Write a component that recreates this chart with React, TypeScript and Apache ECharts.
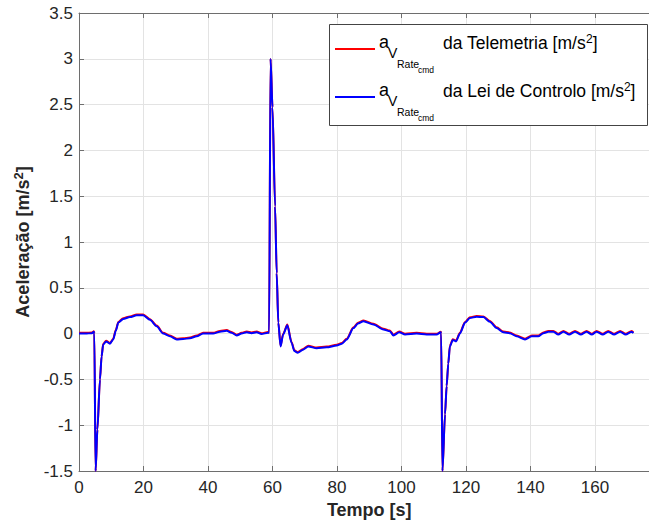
import React, { useEffect, useRef } from "react";
import * as echarts from "echarts";

// time [s]
const tempo = [
  0, 2, 4, 4.6, 4.75, 5.15, 5.7, 6.5, 7.0, 7.5, 8.4, 9.6, 10.6, 11.4, 12.2, 13.7, 15.8, 17.9, 19.9, 22,
  24.1, 26.1, 28.2, 30.3, 32.3, 34.4, 36.5, 38.5, 41.6, 43.7, 45.8, 47.3, 48.9, 50.4, 52, 53.5, 55.1, 56.6, 58.6, 58.95,
  59.4, 60.0, 60.8, 61.3, 61.8, 62.5, 63.3, 64.6, 65.9, 66.8, 67.8, 69.5, 71.1, 73.7, 76.8, 79.9, 81.5, 83, 85.1,
  86.5, 88.2, 91.3, 94.4, 96.4, 97.5, 99.3, 101.1, 104.7, 107.8, 110.9, 112.2, 112.3, 112.7, 113.5, 114, 114.5, 115, 115.9, 116.9,
  118.1, 119.7, 121.2, 123.3, 125.4, 127.4, 129.5, 131.6, 133.6, 135.7, 138.3, 140.4, 142.4, 144, 145.5, 147.1, 148.6, 150.2, 152.0, 153.8,
  155.6, 157.4, 159.0, 160.5, 162.4, 164.1, 165.9, 167.8, 169.5, 171.4, 171.9,
];

// a_V_Rate_cmd from the control law [m/s^2]
const leiControlo = [
  0, 0, 0.005, 0.02, 0.0, -1.5, -1.05, -0.5, -0.25, -0.12, -0.085, -0.11, -0.065, 0.03, 0.12, 0.16, 0.18, 0.2, 0.2, 0.15,
  0.08, 0.0, -0.03, -0.065, -0.06, -0.05, -0.03, 0.0, 0.0, 0.02, 0.03, 0.01, -0.02, 0.0, 0.015, 0.005, 0.015, -0.005, 0.01, 0.01,
  3.0, 2.47, 1.39, 0.66, 0.12, -0.14, -0.01, 0.09, -0.1, -0.19, -0.21, -0.175, -0.14, -0.16, -0.15, -0.13, -0.11, -0.065, 0.06,
  0.11, 0.135, 0.1, 0.045, 0.025, -0.02, 0.015, -0.01, 0.0, -0.01, -0.01, 0.015, 0.0, -1.5, -0.88, -0.57, -0.33, -0.14, -0.07, -0.085,
  0.0, 0.12, 0.17, 0.185, 0.18, 0.13, 0.06, 0.015, 0.005, -0.03, -0.065, -0.03, -0.03, 0.005, 0.02, 0.02, -0.01, 0.02, -0.01, 0.02,
  -0.01, 0.02, -0.01, 0.02, -0.01, 0.02, -0.01, 0.02, -0.01, 0.02, 0.005,
];

// a_V_Rate_cmd from telemetry [m/s^2]
const telemetria = [
  0.008, 0.008, 0.012, 0.025, 0.0, -1.5, -1.05, -0.5, -0.25, -0.112, -0.077, -0.102, -0.057, 0.038, 0.128, 0.168, 0.188, 0.208, 0.208, 0.158,
  0.088, 0.008, -0.022, -0.057, -0.052, -0.042, -0.022, 0.008, 0.008, 0.028, 0.038, 0.018, -0.012, 0.008, 0.023, 0.013, 0.023, 0.003, 0.018, 0.01,
  3.0, 2.47, 1.39, 0.66, 0.12, -0.132, -0.002, 0.098, -0.092, -0.182, -0.202, -0.167, -0.132, -0.152, -0.142, -0.122, -0.102, -0.057, 0.068,
  0.118, 0.143, 0.108, 0.053, 0.033, -0.012, 0.023, -0.002, 0.008, -0.002, -0.002, 0.02, 0.0, -1.5, -0.88, -0.57, -0.33, -0.132, -0.062, -0.077,
  0.008, 0.128, 0.178, 0.193, 0.188, 0.138, 0.068, 0.023, 0.013, -0.022, -0.057, -0.022, -0.022, 0.013, 0.028, 0.028, -0.002, 0.028, -0.002, 0.028,
  -0.002, 0.028, -0.002, 0.028, -0.002, 0.028, -0.002, 0.028, -0.002, 0.028, 0.013,
];

const xTicks = { min: 0, max: 180, interval: 20 };
const yTicks = { min: -1.5, max: 3.5, interval: 0.5 };

const FONT = 'Helvetica, Arial, "Liberation Sans", sans-serif';
const AX = "#262626";

export default function App() {
  const ref = useRef<HTMLDivElement>(null);
  useEffect(() => {
    if (!ref.current) return;
    const chart = echarts.init(ref.current, null, { renderer: "svg" });
    const pair = (vals: number[]) => tempo.map((t, i) => [t, vals[i]]);

    const legendRow = (y0: number, label: string, color: string) => [
      { type: "line", shape: { x1: 335, y1: y0 + 6, x2: 375, y2: y0 + 6 }, style: { stroke: color, lineWidth: 2 }, z: 101 },
      { type: "text", x: 379, y: y0 - 1, style: { text: "a", font: `18px ${FONT}`, fill: "#000", align: "left", verticalAlign: "middle" }, z: 101 },
      { type: "text", x: 388, y: y0 + 10, style: { text: "V", font: `14px ${FONT}`, fill: "#000", align: "left", verticalAlign: "middle" }, z: 101 },
      { type: "text", x: 397, y: y0 + 21, style: { text: "Rate", font: `10.5px ${FONT}`, fill: "#000", align: "left", verticalAlign: "middle" }, z: 101 },
      { type: "text", x: 418, y: y0 + 27, style: { text: "cmd", font: `8.5px ${FONT}`, fill: "#000", align: "left", verticalAlign: "middle" }, z: 101 },
      {
        type: "text", x: 443, y: y0,
        style: {
          text: `{n|${label} [m/s}{s|2}{n|]}`, align: "left", verticalAlign: "middle", fill: "#000",
          rich: {
            n: { fontSize: 17.5, fontFamily: FONT, lineHeight: 21, fill: "#000" },
            s: { fontSize: 12, fontFamily: FONT, lineHeight: 12, verticalAlign: "top", fill: "#000" },
          },
        },
        z: 101,
      },
    ];

    chart.setOption({
      animation: false,
      backgroundColor: "#fff",
      grid: { left: 79, top: 13, bottom: 56, right: 1.5, containLabel: false },
      xAxis: [
        {
          type: "value", ...xTicks, position: "bottom",
          name: "Tempo [s]", nameLocation: "middle", nameGap: 29,
          nameTextStyle: { fontFamily: FONT, fontSize: 18, fontWeight: "bold", color: AX },
          axisLine: { show: true, onZero: false, lineStyle: { color: "#6e6e6e", width: 1 } },
          axisTick: { show: true, inside: true, length: 5, lineStyle: { color: "#6e6e6e" } },
          axisLabel: { fontFamily: FONT, fontSize: 17, color: AX, margin: 8, showMaxLabel: false },
          splitLine: { show: true, lineStyle: { color: "#e3e3e3", width: 1 } },
        },
        {
          type: "value", ...xTicks, position: "top",
          axisLine: { show: true, onZero: false, lineStyle: { color: "#6e6e6e", width: 1 } },
          axisTick: { show: true, inside: true, length: 5, lineStyle: { color: "#6e6e6e" } },
          axisLabel: { show: false },
          splitLine: { show: false },
        },
      ],
      yAxis: {
        type: "value", ...yTicks,
        name: "{n|Aceleração [m/s}{s|2}{n|]}", nameLocation: "middle", nameGap: 45, nameRotate: 90,
        nameTextStyle: {
          fontFamily: FONT, fontSize: 18, fontWeight: "bold", color: AX,
          rich: {
            n: { fontFamily: FONT, fontSize: 18, fontWeight: "bold", color: AX, lineHeight: 22 },
            s: { fontFamily: FONT, fontSize: 13, fontWeight: "bold", color: AX, lineHeight: 13, verticalAlign: "top" },
          },
        },
        axisLine: { show: true, onZero: false, lineStyle: { color: "#6e6e6e", width: 1 } },
        axisTick: { show: true, inside: true, length: 5, lineStyle: { color: "#6e6e6e" } },
        axisLabel: { fontFamily: FONT, fontSize: 17, color: AX, margin: 6 },
        splitLine: { show: true, lineStyle: { color: "#e3e3e3", width: 1 } },
      },
      series: [
        {
          name: "Telemetria", type: "line", data: pair(telemetria), showSymbol: false, smooth: 0.25, smoothMonotone: "x",
          lineStyle: { color: "#ff0000", width: 2 }, itemStyle: { color: "#ff0000" }, z: 2,
        },
        {
          name: "Lei de Controlo", type: "line", data: pair(leiControlo), showSymbol: false, smooth: 0.25, smoothMonotone: "x",
          lineStyle: { color: "#0000ff", width: 2 }, itemStyle: { color: "#0000ff" }, z: 3,
        },
      ],
      graphic: [
        { type: "rect", shape: { x: 329.5, y: 24.5, width: 318, height: 101 }, style: { fill: "#fff", stroke: "#444", lineWidth: 1 }, z: 100 },
        ...legendRow(43, "da Telemetria", "#ff0000"),
        ...legendRow(91, "da Lei de Controlo", "#0000ff"),
      ],
    });
    return () => chart.dispose();
  }, []);
  return (
    <div style={{ position: "absolute", left: 0, top: 0, width: 649, height: 527, overflow: "hidden" }}>
      <div ref={ref} style={{ width: 661, height: 527 }} />
    </div>
  );
}
